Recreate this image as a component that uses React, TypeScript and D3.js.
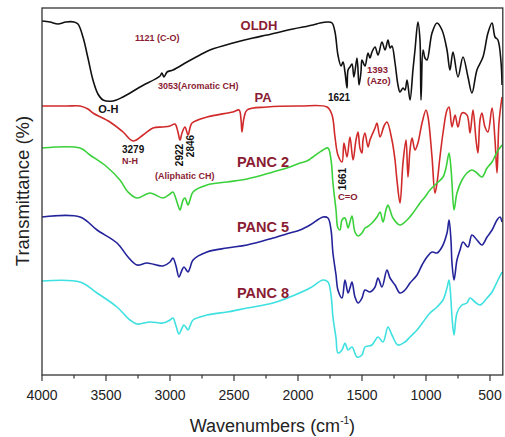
import React from "react";
import * as d3 from "d3";

// Wavenumber (cm-1) and stacked transmittance (arbitrary offset units)
const oldh: [number, number][] = [
  [4000, 354], [3938, 353], [3875, 351], [3813, 353], [3750, 353], [3719, 351], [3680, 338], [3641, 317],
  [3602, 295], [3563, 281], [3523, 275], [3445, 274], [3367, 278], [3234, 288], [3078, 299], [3063, 302],
  [3047, 298], [3023, 303], [2977, 305], [2867, 313], [2766, 320], [2688, 325], [2508, 332], [2352, 337],
  [2242, 340], [2039, 346], [1883, 350], [1828, 352], [1766, 353], [1734, 352], [1711, 343], [1688, 320],
  [1664, 309], [1648, 313], [1633, 303], [1617, 287], [1609, 305], [1594, 308], [1578, 311], [1563, 298],
  [1539, 317], [1523, 290], [1508, 303], [1500, 315], [1477, 309], [1453, 322], [1438, 317], [1422, 323],
  [1398, 328], [1375, 320], [1344, 333], [1320, 325], [1297, 335], [1281, 327], [1266, 329], [1242, 312],
  [1219, 290], [1203, 283], [1180, 287], [1164, 285], [1148, 295], [1125, 275], [1102, 305], [1086, 325],
  [1063, 353], [1047, 335], [1039, 275], [1023, 325], [1008, 317], [992, 315], [953, 342], [914, 352],
  [875, 345], [836, 325], [813, 305], [789, 323], [750, 298], [711, 318], [672, 298], [641, 282],
  [602, 305], [555, 318], [516, 342], [484, 352], [461, 338], [438, 335], [414, 313], [406, 290],
];

const pa: [number, number][] = [
  [4000, 269], [3805, 269], [3703, 269], [3641, 266], [3602, 262], [3469, 253], [3367, 243], [3289, 234],
  [3211, 240], [3133, 247], [3055, 248], [3000, 249], [2961, 251], [2938, 243], [2922, 235], [2906, 242],
  [2883, 248], [2859, 240], [2844, 247], [2828, 252], [2711, 258], [2508, 263], [2461, 265], [2445, 255],
  [2438, 243], [2422, 257], [2398, 265], [2242, 268], [1984, 269], [1773, 268], [1734, 260], [1711, 238],
  [1688, 220], [1656, 213], [1641, 232], [1617, 218], [1594, 238], [1570, 215], [1547, 235], [1531, 243],
  [1516, 227], [1500, 222], [1492, 235], [1477, 242], [1453, 228], [1438, 235], [1422, 240], [1398, 247],
  [1383, 252], [1359, 238], [1328, 249], [1305, 253], [1266, 235], [1242, 215], [1227, 195], [1203, 172],
  [1180, 212], [1156, 235], [1141, 198], [1125, 225], [1109, 237], [1086, 225], [1063, 232], [1031, 252],
  [1000, 265], [984, 258], [953, 218], [930, 182], [914, 192], [891, 218], [867, 242], [836, 265],
  [820, 268], [797, 248], [773, 260], [750, 248], [719, 262], [680, 260], [656, 242], [633, 265],
  [609, 235], [594, 222], [578, 255], [563, 262], [539, 248], [516, 243], [484, 267], [461, 235],
  [445, 202], [430, 252], [406, 278],
];

const panc2: [number, number][] = [
  [4000, 227], [3703, 227], [3625, 220], [3492, 208], [3391, 195], [3328, 183], [3258, 177], [3156, 182],
  [3055, 177], [3000, 181], [2977, 183], [2961, 179], [2938, 170], [2922, 165], [2898, 175], [2883, 177],
  [2859, 170], [2844, 175], [2820, 183], [2711, 190], [2555, 193], [2398, 196], [2195, 203], [2063, 208],
  [1984, 212], [1930, 214], [1883, 218], [1805, 225], [1766, 227], [1742, 215], [1727, 192], [1703, 165],
  [1688, 147], [1672, 145], [1656, 155], [1633, 157], [1609, 147], [1594, 153], [1578, 159], [1555, 143],
  [1531, 139], [1500, 142], [1477, 147], [1461, 148], [1422, 152], [1383, 158], [1359, 163], [1336, 153],
  [1313, 165], [1297, 170], [1281, 165], [1258, 157], [1203, 150], [1148, 155], [1102, 162], [1047, 172],
  [1008, 178], [969, 185], [914, 192], [867, 198], [844, 207], [820, 222], [805, 207], [797, 192],
  [781, 165], [758, 182], [719, 195], [680, 202], [641, 205], [602, 202], [563, 198], [523, 207],
  [484, 213], [445, 223], [406, 230],
];

const panc5: [number, number][] = [
  [4000, 158], [3703, 158], [3570, 145], [3414, 132], [3328, 118], [3258, 110], [3180, 112], [3055, 109],
  [3000, 113], [2977, 117], [2953, 109], [2930, 98], [2906, 105], [2891, 108], [2859, 103], [2844, 107],
  [2820, 115], [2711, 123], [2555, 127], [2398, 130], [2195, 137], [2063, 142], [1984, 145], [1906, 150],
  [1805, 158], [1766, 157], [1742, 145], [1727, 122], [1703, 100], [1688, 85], [1656, 77], [1633, 95],
  [1609, 82], [1594, 87], [1578, 93], [1555, 78], [1531, 72], [1500, 77], [1477, 85], [1438, 83],
  [1398, 88], [1375, 97], [1344, 88], [1305, 105], [1281, 97], [1242, 90], [1203, 82], [1164, 85],
  [1125, 92], [1070, 100], [1031, 110], [992, 118], [953, 123], [914, 122], [875, 128], [836, 142],
  [820, 155], [805, 135], [797, 112], [781, 95], [758, 115], [734, 125], [711, 133], [672, 128],
  [641, 140], [602, 135], [563, 130], [523, 138], [484, 145], [445, 155], [422, 158], [406, 153],
];

const panc8: [number, number][] = [
  [4000, 94], [3703, 93], [3570, 82], [3414, 68], [3313, 55], [3258, 51], [3156, 53], [3055, 52],
  [3000, 55], [2977, 57], [2953, 49], [2930, 41], [2906, 47], [2891, 50], [2859, 45], [2844, 49],
  [2820, 55], [2711, 60], [2555, 63], [2398, 67], [2195, 72], [2063, 78], [1906, 87], [1805, 95],
  [1766, 93], [1742, 80], [1727, 58], [1703, 37], [1688, 22], [1656, 25], [1633, 32], [1609, 25],
  [1578, 28], [1539, 18], [1500, 20], [1477, 28], [1422, 30], [1375, 38], [1336, 33], [1297, 48],
  [1266, 40], [1219, 30], [1164, 33], [1125, 38], [1070, 45], [1023, 53], [969, 62], [914, 68],
  [867, 75], [836, 87], [820, 95], [805, 75], [797, 58], [781, 40], [758, 62], [719, 70],
  [680, 72], [656, 77], [617, 73], [578, 70], [523, 77], [484, 83], [445, 93], [406, 103],
];

const seriesNames = ["OLDH", "PA", "PANC 2", "PANC 5", "PANC 8"];
const seriesData = [oldh, pa, panc2, panc5, panc8];
const seriesColors = ["#111111", "#d12a2a", "#3bd13b", "#23239a", "#3ee0e0"];

const majorTicks = [4000, 3500, 3000, 2500, 2000, 1500, 1000, 500];
const minorTicks = [3750, 3250, 2750, 2250, 1750, 1250, 750];

const W = 505;
const H = 437;
const M = { left: 42, right: 502.8, top: 8, bottom: 375 };
const FONT = "'Liberation Sans', Arial, sans-serif";
const MAROON = "#8a1c33";

export default function App() {
  const x = d3.scaleLinear().domain([4000, 400]).range([M.left, M.right]);
  const y = d3.scaleLinear().domain([0, 367]).range([M.bottom, M.top]);
  const line = d3
    .line<[number, number]>()
    .x((d) => x(d[0]))
    .y((d) => y(d[1]))
    .curve(d3.curveCatmullRom.alpha(0.5));

  const lbl = (
    text: string,
    px: number,
    py: number,
    opts: { size?: number; color?: string; anchor?: string; rotate?: boolean; weight?: string } = {}
  ) => (
    <text
      key={text + px}
      x={px}
      y={py}
      fontSize={opts.size ?? 9.5}
      fontWeight={opts.weight ?? "bold"}
      fill={opts.color ?? MAROON}
      textAnchor={opts.anchor ?? "start"}
      transform={opts.rotate ? `rotate(-90 ${px} ${py})` : undefined}
    >
      {text}
    </text>
  );

  return (
    <svg
      width={W}
      height={H}
      style={{ position: "absolute", left: 0, top: 0, background: "#fff", fontFamily: FONT }}
    >
      <rect x={0} y={0} width={W} height={H} fill="#fff" />
      {seriesData.map((d, i) => (
        <path key={seriesNames[i]} d={line(d) ?? ""} fill="none" stroke={seriesColors[i]} strokeWidth={1.6} strokeLinejoin="round" />
      ))}
      <rect
        x={M.left}
        y={M.top}
        width={M.right - M.left}
        height={M.bottom - M.top}
        fill="none"
        stroke="#333"
        strokeWidth={1.3}
      />
      {majorTicks.map((t) => (
        <g key={t}>
          <line x1={x(t)} x2={x(t)} y1={M.bottom} y2={M.bottom + 6} stroke="#333" strokeWidth={1.2} />
          <text x={x(t)} y={400} fontSize={14} textAnchor="middle" fill="#222">
            {t}
          </text>
        </g>
      ))}
      {minorTicks.map((t) => (
        <line key={t} x1={x(t)} x2={x(t)} y1={M.bottom} y2={M.bottom + 3.5} stroke="#333" strokeWidth={1.2} />
      ))}
      <text x={(M.left + M.right) / 2} y={432} fontSize={18} textAnchor="middle" fill="#222">
        Wavenumbers (cm
        <tspan fontSize={10} dy={-8}>-1</tspan>
        <tspan dy={8}>)</tspan>
      </text>
      <text
        x={29}
        y={191}
        fontSize={18.5}
        textAnchor="middle"
        fill="#222"
        transform="rotate(-90 29 191)"
      >
        Transmittance (%)
      </text>

      {/* series labels */}
      {lbl("OLDH", x(2305), 30, { size: 13, anchor: "middle" })}
      {lbl("PA", x(2273), 102, { size: 13, anchor: "middle" })}
      {lbl("PANC 2", x(2273), 167, { size: 14.5, anchor: "middle" })}
      {lbl("PANC 5", x(2273), 232, { size: 14.5, anchor: "middle" })}
      {lbl("PANC 8", x(2273), 298, { size: 14.5, anchor: "middle" })}

      {/* band annotations */}
      {lbl("1121 (C-O)", x(3273), 41, { size: 9 })}
      {lbl("3053(Aromatic CH)", x(3094), 89, { size: 9 })}
      {lbl("O-H", x(3560), 113, { size: 11, color: "#111" })}
      {lbl("3279", x(3375), 153, { size: 10, color: "#111" })}
      {lbl("N-H", x(3375), 164, { size: 9 })}
      {lbl("2922", 183, 155, { size: 10, color: "#111", anchor: "middle", rotate: true })}
      {lbl("2846", 194, 146, { size: 10, color: "#111", anchor: "middle", rotate: true })}
      {lbl("(Aliphatic CH)", x(3117), 179, { size: 9 })}
      {lbl("1621", x(1766), 101, { size: 10, color: "#111" })}
      {lbl("1393", x(1461), 73, { size: 9.5 })}
      {lbl("(Azo)", x(1461), 84, { size: 9.5 })}
      {lbl("1661", 345.5, 179, { size: 10, color: "#111", anchor: "middle", rotate: true })}
      {lbl("C=O", x(1688), 200, { size: 9.5 })}
    </svg>
  );
}
